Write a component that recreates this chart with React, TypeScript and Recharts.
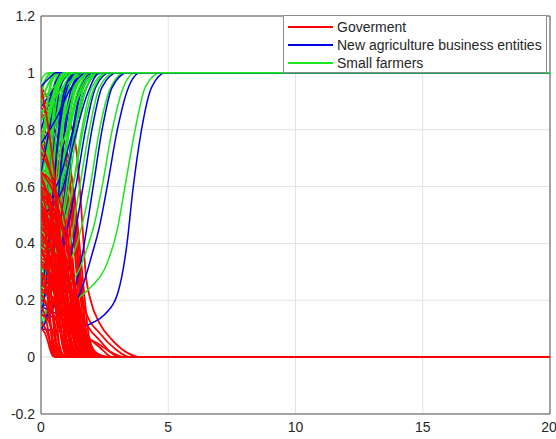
import { LineChart, Line, XAxis, YAxis, CartesianGrid, ReferenceLine, Legend } from "recharts";

type Pt = [number, number];

const xTicks = [0, 5, 10, 15, 20];
const yTicks = [-0.2, 0, 0.2, 0.4, 0.6, 0.8, 1, 1.2];
const seriesNames = ["Goverment", "New agriculture business entities", "Small farmers"];
const seriesColors = ["#ff0000", "#0000e6", "#1ee61e"];

// each run: [time, share] points
const government: Pt[][] = [
  [[0, 0.95], [0.6, 0.85], [1.0, 0.73], [1.26, 0.6], [1.45, 0.4], [1.6, 0.25], [1.8, 0.07], [2.1, 0.01], [2.4, 0], [20, 0]],
  [[0, 0.9], [0.54, 0.8], [0.9, 0.7], [1.13, 0.6], [1.3, 0.4], [1.44, 0.25], [1.62, 0.07], [1.89, 0.01], [2.16, 0], [20, 0]],
  [[0, 0.85], [0.48, 0.77], [0.8, 0.68], [1.0, 0.58], [1.16, 0.4], [1.28, 0.25], [1.44, 0.07], [1.68, 0.01], [1.92, 0], [20, 0]],
  [[0, 0.8], [0.42, 0.72], [0.7, 0.64], [0.88, 0.55], [1.02, 0.38], [1.12, 0.24], [1.26, 0.07], [1.47, 0.01], [1.68, 0], [20, 0]],
  [[0, 0.92], [0.36, 0.8], [0.6, 0.7], [0.76, 0.6], [0.87, 0.4], [0.96, 0.25], [1.08, 0.07], [1.26, 0.01], [1.44, 0], [20, 0]],
  [[0, 0.75], [0.3, 0.68], [0.5, 0.6], [0.63, 0.52], [0.73, 0.36], [0.8, 0.23], [0.9, 0.07], [1.05, 0.01], [1.2, 0], [20, 0]],
  [[0, 0.88], [0.57, 0.79], [0.95, 0.69], [1.2, 0.58], [1.38, 0.4], [1.52, 0.25], [1.71, 0.07], [2.0, 0.01], [2.28, 0], [20, 0]],
  [[0, 0.7], [0.51, 0.66], [0.85, 0.6], [1.07, 0.52], [1.23, 0.36], [1.36, 0.23], [1.53, 0.07], [1.79, 0.01], [2.04, 0], [20, 0]],
  [[0, 0.82], [0.45, 0.74], [0.75, 0.66], [0.95, 0.56], [1.09, 0.39], [1.2, 0.24], [1.35, 0.07], [1.58, 0.01], [1.8, 0], [20, 0]],
  [[0, 0.95], [0.27, 0.82], [0.45, 0.7], [0.57, 0.6], [0.65, 0.4], [0.72, 0.25], [0.81, 0.07], [0.95, 0.01], [1.08, 0], [20, 0]],
  [[0, 0.78], [0.39, 0.7], [0.65, 0.62], [0.82, 0.54], [0.94, 0.37], [1.04, 0.23], [1.17, 0.07], [1.37, 0.01], [1.56, 0], [20, 0]],
  [[0, 0.86], [0.63, 0.78], [1.05, 0.68], [1.32, 0.57], [1.52, 0.39], [1.68, 0.24], [1.89, 0.07], [2.2, 0.01], [2.52, 0], [20, 0]],
  [[0, 0.72], [0.33, 0.66], [0.55, 0.59], [0.69, 0.51], [0.8, 0.35], [0.88, 0.22], [0.99, 0.07], [1.16, 0.01], [1.32, 0], [20, 0]],
  [[0, 0.66], [0.6, 0.63], [1.0, 0.58], [1.26, 0.5], [1.45, 0.35], [1.6, 0.22], [1.8, 0.07], [2.1, 0.01], [2.4, 0], [20, 0]],
  [[0, 0.9], [0.5, 0.88], [1.06, 0.84], [1.4, 0.72], [1.6, 0.5], [1.75, 0.3], [1.95, 0.2], [2.3, 0.12], [2.8, 0.06], [3.4, 0.015], [3.9, 0], [20, 0]],
  [[0, 0.75], [0.6, 0.7], [1.0, 0.6], [1.3, 0.4], [1.5, 0.25], [1.8, 0.15], [2.3, 0.085], [2.9, 0.03], [3.5, 0], [20, 0]],
  [[0, 0.65], [0.5, 0.6], [1.0, 0.45], [1.25, 0.3], [1.45, 0.19], [1.9, 0.1], [2.3, 0.06], [2.7, 0.02], [3.1, 0], [20, 0]],
  [[0, 0.5], [0.5, 0.45], [0.9, 0.3], [1.1, 0.15], [1.4, 0.09], [1.8, 0.07], [2.3, 0.035], [2.8, 0], [20, 0]],
  [[0, 0.35], [0.5, 0.3], [0.9, 0.2], [1.2, 0.12], [1.6, 0.08], [2.2, 0.05], [2.7, 0.02], [3.3, 0], [20, 0]],
  [[0, 0.65], [0.6, 0.55], [1.08, 0.36], [1.44, 0.16], [1.74, 0.045], [2.1, 0.006], [2.4, 0], [20, 0]],
  [[0, 0.62], [0.4, 0.53], [0.72, 0.34], [0.96, 0.155], [1.16, 0.043], [1.4, 0.006], [1.6, 0], [20, 0]],
  [[0, 0.6], [0.53, 0.51], [0.95, 0.33], [1.26, 0.15], [1.52, 0.042], [1.84, 0.006], [2.1, 0], [20, 0]],
  [[0, 0.58], [0.25, 0.49], [0.45, 0.32], [0.6, 0.145], [0.73, 0.04], [0.88, 0.006], [1.0, 0], [20, 0]],
  [[0, 0.56], [0.58, 0.48], [1.04, 0.31], [1.38, 0.14], [1.67, 0.039], [2.01, 0.006], [2.3, 0], [20, 0]],
  [[0, 0.54], [0.35, 0.46], [0.63, 0.3], [0.84, 0.135], [1.02, 0.038], [1.23, 0.005], [1.4, 0], [20, 0]],
  [[0, 0.52], [0.48, 0.44], [0.86, 0.29], [1.14, 0.13], [1.38, 0.036], [1.66, 0.005], [1.9, 0], [20, 0]],
  [[0, 0.5], [0.2, 0.43], [0.36, 0.28], [0.48, 0.125], [0.58, 0.035], [0.7, 0.005], [0.8, 0], [20, 0]],
  [[0, 0.48], [0.63, 0.41], [1.13, 0.26], [1.5, 0.12], [1.81, 0.034], [2.19, 0.005], [2.5, 0], [20, 0]],
  [[0, 0.46], [0.43, 0.39], [0.77, 0.25], [1.02, 0.115], [1.23, 0.032], [1.49, 0.005], [1.7, 0], [20, 0]],
  [[0, 0.44], [0.3, 0.37], [0.54, 0.24], [0.72, 0.11], [0.87, 0.031], [1.05, 0.004], [1.2, 0], [20, 0]],
  [[0, 0.42], [0.55, 0.36], [0.99, 0.23], [1.32, 0.105], [1.6, 0.029], [1.93, 0.004], [2.2, 0], [20, 0]],
  [[0, 0.4], [0.38, 0.34], [0.68, 0.22], [0.9, 0.1], [1.09, 0.028], [1.31, 0.004], [1.5, 0], [20, 0]],
  [[0, 0.38], [0.23, 0.32], [0.41, 0.21], [0.54, 0.095], [0.65, 0.027], [0.79, 0.004], [0.9, 0], [20, 0]],
  [[0, 0.36], [0.5, 0.31], [0.9, 0.2], [1.2, 0.09], [1.45, 0.025], [1.75, 0.004], [2.0, 0], [20, 0]],
  [[0, 0.34], [0.33, 0.29], [0.59, 0.19], [0.78, 0.085], [0.94, 0.024], [1.14, 0.003], [1.3, 0], [20, 0]],
  [[0, 0.32], [0.6, 0.27], [1.08, 0.18], [1.44, 0.08], [1.74, 0.022], [2.1, 0.003], [2.4, 0], [20, 0]],
  [[0, 0.3], [0.18, 0.26], [0.32, 0.165], [0.42, 0.075], [0.51, 0.021], [0.61, 0.003], [0.7, 0], [20, 0]],
  [[0, 0.28], [0.45, 0.24], [0.81, 0.15], [1.08, 0.07], [1.31, 0.02], [1.58, 0.003], [1.8, 0], [20, 0]],
  [[0, 0.26], [0.28, 0.22], [0.5, 0.14], [0.66, 0.065], [0.8, 0.018], [0.96, 0.003], [1.1, 0], [20, 0]],
  [[0, 0.24], [0.55, 0.2], [0.99, 0.13], [1.32, 0.06], [1.6, 0.017], [1.93, 0.002], [2.2, 0], [20, 0]],
  [[0, 0.22], [0.2, 0.19], [0.36, 0.12], [0.48, 0.055], [0.58, 0.015], [0.7, 0.002], [0.8, 0], [20, 0]],
  [[0, 0.2], [0.38, 0.17], [0.68, 0.11], [0.9, 0.05], [1.09, 0.014], [1.31, 0.002], [1.5, 0], [20, 0]],
  [[0, 0.18], [0.15, 0.15], [0.27, 0.1], [0.36, 0.045], [0.44, 0.013], [0.53, 0.002], [0.6, 0], [20, 0]],
  [[0, 0.15], [0.28, 0.13], [0.5, 0.08], [0.66, 0.038], [0.8, 0.011], [0.96, 0.002], [1.1, 0], [20, 0]],
  [[0, 0.12], [0.18, 0.1], [0.32, 0.066], [0.42, 0.03], [0.51, 0.008], [0.61, 0.001], [0.7, 0], [20, 0]],
  [[0, 0.1], [0.15, 0.085], [0.27, 0.055], [0.36, 0.025], [0.44, 0.007], [0.53, 0.001], [0.6, 0], [20, 0]],
  [[0, 0.64], [0.3, 0.54], [0.54, 0.35], [0.72, 0.16], [0.87, 0.045], [1.05, 0.006], [1.2, 0], [20, 0]],
  [[0, 0.5], [0.5, 0.43], [0.9, 0.28], [1.2, 0.125], [1.45, 0.035], [1.75, 0.005], [2.0, 0], [20, 0]],
  [[0, 0.45], [0.65, 0.38], [1.17, 0.25], [1.56, 0.11], [1.89, 0.032], [2.28, 0.005], [2.6, 0], [20, 0]],
  [[0, 0.55], [0.15, 0.47], [0.27, 0.3], [0.36, 0.14], [0.44, 0.039], [0.53, 0.005], [0.6, 0], [20, 0]],
  [[0, 0.38], [0.65, 0.32], [1.17, 0.21], [1.56, 0.095], [1.89, 0.027], [2.28, 0.004], [2.6, 0], [20, 0]],
  [[0, 0.6], [0.62, 0.52], [1.12, 0.34], [1.5, 0.15], [1.8, 0.042], [2.15, 0.006], [2.5, 0], [20, 0]],
  [[0, 0.57], [0.68, 0.49], [1.2, 0.32], [1.58, 0.14], [1.9, 0.04], [2.3, 0.006], [2.6, 0], [20, 0]],
  [[0, 0.53], [0.55, 0.46], [1.0, 0.3], [1.33, 0.13], [1.6, 0.037], [1.93, 0.005], [2.2, 0], [20, 0]],
  [[0, 0.49], [0.7, 0.42], [1.26, 0.27], [1.68, 0.12], [2.0, 0.034], [2.4, 0.005], [2.8, 0], [20, 0]],
  [[0, 0.47], [0.6, 0.4], [1.08, 0.26], [1.44, 0.115], [1.74, 0.033], [2.1, 0.005], [2.4, 0], [20, 0]],
  [[0, 0.43], [0.45, 0.37], [0.81, 0.24], [1.08, 0.105], [1.3, 0.03], [1.57, 0.004], [1.8, 0], [20, 0]],
  [[0, 0.41], [0.65, 0.35], [1.17, 0.23], [1.56, 0.1], [1.89, 0.029], [2.28, 0.004], [2.6, 0], [20, 0]],
  [[0, 0.37], [0.58, 0.31], [1.04, 0.2], [1.38, 0.09], [1.67, 0.026], [2.01, 0.004], [2.3, 0], [20, 0]],
  [[0, 0.33], [0.4, 0.28], [0.72, 0.18], [0.96, 0.08], [1.16, 0.023], [1.4, 0.003], [1.6, 0], [20, 0]],
  [[0, 0.29], [0.65, 0.25], [1.17, 0.16], [1.56, 0.07], [1.89, 0.02], [2.28, 0.003], [2.6, 0], [20, 0]],
  [[0, 0.27], [0.35, 0.23], [0.63, 0.15], [0.84, 0.066], [1.02, 0.019], [1.23, 0.003], [1.4, 0], [20, 0]],
  [[0, 0.23], [0.6, 0.2], [1.08, 0.13], [1.44, 0.056], [1.74, 0.016], [2.1, 0.002], [2.4, 0], [20, 0]],
  [[0, 0.59], [0.4, 0.5], [0.72, 0.32], [0.96, 0.145], [1.16, 0.041], [1.4, 0.006], [1.6, 0], [20, 0]],
  [[0, 0.51], [0.3, 0.43], [0.54, 0.28], [0.72, 0.125], [0.87, 0.036], [1.05, 0.005], [1.2, 0], [20, 0]],
];

const newEntities: Pt[][] = [
  [[0, 0.88], [0.4, 0.93], [0.9, 0.99], [1.3, 1], [20, 1]],
  [[0, 0.7], [0.3, 0.78], [0.7, 0.9], [1.1, 0.98], [1.5, 1], [20, 1]],
  [[0, 0.6], [0.5, 0.7], [1.0, 0.86], [1.5, 0.97], [2.0, 1], [20, 1]],
  [[0, 0.5], [0.3, 0.62], [0.6, 0.8], [0.9, 0.93], [1.3, 1], [20, 1]],
  [[0, 0.4], [0.4, 0.5], [0.8, 0.66], [1.2, 0.85], [1.6, 0.96], [2.1, 1], [20, 1]],
  [[0, 0.3], [0.3, 0.38], [0.6, 0.55], [0.9, 0.76], [1.2, 0.92], [1.6, 1], [20, 1]],
  [[0, 0.2], [0.3, 0.24], [0.6, 0.36], [0.9, 0.55], [1.2, 0.77], [1.5, 0.92], [2.0, 1], [20, 1]],
  [[0, 0.12], [0.3, 0.14], [0.6, 0.22], [0.85, 0.4], [1.1, 0.64], [1.4, 0.86], [1.8, 0.98], [2.2, 1], [20, 1]],
  [[0, 0.25], [0.5, 0.28], [0.9, 0.4], [1.37, 0.6], [1.75, 0.8], [2.15, 0.95], [2.7, 1], [20, 1]],
  [[0, 0.18], [0.6, 0.2], [1.1, 0.33], [1.65, 0.6], [2.0, 0.8], [2.4, 0.95], [3.0, 1], [20, 1]],
  [[0, 0.15], [0.7, 0.14], [1.2, 0.2], [1.6, 0.35], [2.05, 0.6], [2.4, 0.8], [2.8, 0.95], [3.4, 1], [20, 1]],
  [[0, 0.18], [0.8, 0.15], [1.2, 0.17], [1.6, 0.24], [2.0, 0.36], [2.3, 0.46], [2.6, 0.6], [3.0, 0.8], [3.4, 0.94], [3.9, 1], [20, 1]],
  [[0, 0.1], [1, 0.09], [1.5, 0.1], [2, 0.12], [2.5, 0.15], [3, 0.22], [3.38, 0.4], [3.6, 0.58], [3.95, 0.8], [4.35, 0.95], [4.9, 1], [20, 1]],
  [[0, 0.8], [0.2, 0.86], [0.5, 0.95], [0.8, 1], [20, 1]],
  [[0, 0.45], [0.6, 0.52], [1.1, 0.7], [1.6, 0.9], [2.1, 0.99], [2.5, 1], [20, 1]],
  [[0, 0.35], [0.15, 0.45], [0.35, 0.65], [0.6, 0.87], [0.9, 0.98], [1.2, 1], [20, 1]],
  [[0, 0.55], [0.7, 0.62], [1.2, 0.78], [1.7, 0.93], [2.2, 1], [20, 1]],
  [[0, 0.1], [0.2, 0.13], [0.45, 0.3], [0.7, 0.58], [0.95, 0.82], [1.3, 0.97], [1.7, 1], [20, 1]],
  [[0, 0.95], [0.3, 0.98], [0.6, 1], [20, 1]],
  [[0, 0.65], [0.2, 0.74], [0.5, 0.88], [0.8, 0.97], [1.1, 1], [20, 1]],
  [[0, 0.25], [0.2, 0.33], [0.45, 0.55], [0.7, 0.78], [1.0, 0.94], [1.4, 1], [20, 1]],
  [[0, 0.75], [0.6, 0.84], [1.2, 0.95], [1.8, 1], [20, 1]],
  [[0, 0.15], [0.15, 0.22], [0.35, 0.42], [0.55, 0.66], [0.8, 0.88], [1.1, 0.98], [1.4, 1], [20, 1]],
  [[0, 0.5], [0.8, 0.58], [1.3, 0.76], [1.8, 0.92], [2.3, 1], [20, 1]],
];

const smallFarmers: Pt[][] = [
  [[0, 0.95], [0.2, 0.98], [0.5, 1], [20, 1]],
  [[0, 0.9], [0.3, 0.96], [0.7, 1], [20, 1]],
  [[0, 0.85], [0.3, 0.9], [0.7, 0.97], [1.1, 1], [20, 1]],
  [[0, 0.8], [0.4, 0.88], [0.8, 0.96], [1.3, 1], [20, 1]],
  [[0, 0.75], [0.2, 0.82], [0.5, 0.93], [0.9, 1], [20, 1]],
  [[0, 0.7], [0.5, 0.8], [1.0, 0.93], [1.5, 1], [20, 1]],
  [[0, 0.65], [0.3, 0.75], [0.7, 0.9], [1.1, 0.98], [1.5, 1], [20, 1]],
  [[0, 0.6], [0.6, 0.72], [1.1, 0.88], [1.6, 0.98], [2.0, 1], [20, 1]],
  [[0, 0.55], [0.2, 0.66], [0.5, 0.85], [0.8, 0.96], [1.2, 1], [20, 1]],
  [[0, 0.5], [0.4, 0.6], [0.8, 0.8], [1.2, 0.94], [1.7, 1], [20, 1]],
  [[0, 0.45], [0.3, 0.55], [0.6, 0.74], [0.9, 0.9], [1.3, 0.99], [1.6, 1], [20, 1]],
  [[0, 0.4], [0.5, 0.5], [0.9, 0.68], [1.3, 0.87], [1.7, 0.97], [2.2, 1], [20, 1]],
  [[0, 0.35], [0.2, 0.45], [0.45, 0.66], [0.7, 0.86], [1.0, 0.97], [1.4, 1], [20, 1]],
  [[0, 0.3], [0.4, 0.4], [0.8, 0.6], [1.1, 0.8], [1.5, 0.95], [2.0, 1], [20, 1]],
  [[0, 0.25], [0.25, 0.35], [0.5, 0.55], [0.75, 0.78], [1.0, 0.93], [1.4, 1], [20, 1]],
  [[0, 0.2], [0.3, 0.28], [0.6, 0.46], [0.9, 0.7], [1.2, 0.9], [1.6, 0.99], [2.0, 1], [20, 1]],
  [[0, 0.15], [0.2, 0.25], [0.4, 0.45], [0.6, 0.7], [0.85, 0.9], [1.2, 1], [20, 1]],
  [[0, 0.1], [0.2, 0.15], [0.45, 0.35], [0.7, 0.65], [0.95, 0.88], [1.3, 0.99], [1.6, 1], [20, 1]],
  [[0, 0.12], [0.3, 0.2], [0.6, 0.4], [0.85, 0.6], [1.15, 0.85], [1.5, 0.97], [2.0, 1], [20, 1]],
  [[0, 0.28], [0.5, 0.34], [0.9, 0.46], [1.25, 0.6], [1.6, 0.8], [2.0, 0.95], [2.6, 1], [20, 1]],
  [[0, 0.22], [0.6, 0.25], [1.1, 0.38], [1.52, 0.6], [1.9, 0.8], [2.3, 0.95], [2.9, 1], [20, 1]],
  [[0, 0.32], [0.7, 0.3], [1.3, 0.37], [1.6, 0.46], [1.93, 0.6], [2.3, 0.8], [2.7, 0.94], [3.3, 1], [20, 1]],
  [[0, 0.3], [0.5, 0.27], [1, 0.26], [1.4, 0.29], [1.8, 0.38], [2.1, 0.47], [2.4, 0.6], [2.8, 0.8], [3.2, 0.94], [3.7, 1], [20, 1]],
  [[0, 0.2], [1, 0.19], [1.5, 0.21], [2, 0.25], [2.5, 0.31], [3, 0.45], [3.3, 0.6], [3.7, 0.8], [4.1, 0.95], [4.7, 1], [20, 1]],
  [[0, 0.92], [0.15, 0.97], [0.4, 1], [20, 1]],
  [[0, 0.78], [0.6, 0.86], [1.2, 0.95], [1.8, 1], [20, 1]],
  [[0, 0.58], [0.15, 0.7], [0.35, 0.87], [0.6, 0.97], [0.9, 1], [20, 1]],
  [[0, 0.42], [0.1, 0.55], [0.25, 0.75], [0.45, 0.92], [0.7, 1], [20, 1]],
  [[0, 0.68], [0.1, 0.78], [0.3, 0.93], [0.55, 1], [20, 1]],
  [[0, 0.52], [0.6, 0.6], [1.0, 0.75], [1.4, 0.9], [1.9, 0.99], [2.3, 1], [20, 1]],
  [[0, 0.97], [0.1, 0.99], [0.3, 1], [20, 1]],
  [[0, 0.88], [0.15, 0.93], [0.4, 0.98], [0.7, 1], [20, 1]],
  [[0, 0.83], [0.5, 0.9], [1.0, 0.97], [1.5, 1], [20, 1]],
  [[0, 0.73], [0.1, 0.8], [0.3, 0.92], [0.55, 0.99], [0.8, 1], [20, 1]],
  [[0, 0.66], [0.4, 0.78], [0.8, 0.91], [1.2, 0.98], [1.6, 1], [20, 1]],
  [[0, 0.62], [0.15, 0.72], [0.4, 0.87], [0.7, 0.97], [1.0, 1], [20, 1]],
  [[0, 0.57], [0.5, 0.68], [0.9, 0.83], [1.3, 0.95], [1.8, 1], [20, 1]],
  [[0, 0.48], [0.15, 0.6], [0.35, 0.78], [0.6, 0.93], [0.9, 1], [20, 1]],
  [[0, 0.38], [0.3, 0.5], [0.6, 0.7], [0.9, 0.88], [1.2, 0.97], [1.6, 1], [20, 1]],
  [[0, 0.33], [0.1, 0.45], [0.25, 0.66], [0.45, 0.87], [0.7, 0.98], [1.0, 1], [20, 1]],
  [[0, 0.27], [0.6, 0.38], [1.0, 0.55], [1.35, 0.76], [1.7, 0.92], [2.2, 1], [20, 1]],
  [[0, 0.18], [0.1, 0.3], [0.25, 0.55], [0.4, 0.78], [0.6, 0.94], [0.9, 1], [20, 1]],
  [[0, 0.13], [0.1, 0.2], [0.25, 0.42], [0.4, 0.68], [0.6, 0.9], [0.9, 0.99], [1.1, 1], [20, 1]],
  [[0, 0.24], [0.4, 0.3], [0.8, 0.47], [1.1, 0.66], [1.45, 0.86], [1.8, 0.97], [2.3, 1], [20, 1]],
  [[0, 0.86], [0.7, 0.93], [1.3, 0.98], [1.9, 1], [20, 1]],
  [[0, 0.62], [0.8, 0.74], [1.4, 0.9], [1.9, 0.98], [2.4, 1], [20, 1]],
  [[0, 0.76], [0.3, 0.85], [0.7, 0.95], [1.1, 1], [20, 1]],
  [[0, 0.45], [0.7, 0.55], [1.2, 0.74], [1.6, 0.9], [2.1, 0.99], [2.5, 1], [20, 1]],
  [[0, 0.36], [0.8, 0.45], [1.3, 0.62], [1.7, 0.82], [2.1, 0.95], [2.6, 1], [20, 1]],
  [[0, 0.9], [0.5, 0.95], [1.0, 0.99], [1.4, 1], [20, 1]],
];

const toRows = (pts: Pt[]) => pts.map(([t, v]) => ({ t, v }));

// slow government runs that start high sit under the farmers' bundle,
// the rest are drawn over it (as in the original picture)
const startOf = (p: Pt[]) => p[0][1];
const settleOf = (p: Pt[]) => p[p.length - 2][0];
const isUnder = (p: Pt[]) => startOf(p) > 0.655 && settleOf(p) > 1.35;
const govUnder = government.filter(isUnder);
const govOver = government.filter((p) => !isUnder(p));

type Item = { g: number; key: string; pts: Pt[]; layer: number };
const mixed: Item[] = [
  ...newEntities.map((pts, i) => ({ g: 1, key: `b${i}`, pts, layer: (i + 0.5) / newEntities.length })),
  ...smallFarmers.map((pts, i) => ({ g: 2, key: `f${i}`, pts, layer: (i + 0.5) / smallFarmers.length })),
].sort((a, b) => a.layer - b.layer);

const drawOrder: Item[] = [
  ...govUnder.map((pts, i) => ({ g: 0, key: `gu${i}`, pts, layer: 0 })),
  ...mixed,
  ...govOver.map((pts, i) => ({ g: 0, key: `go${i}`, pts, layer: 1 })),
];

const font = "'Liberation Sans', Arial, sans-serif";

function LegendBox() {
  return (
    <div
      style={{
        width: 262,
        height: 56,
        border: "1px solid #8c8c8c",
        background: "#fff",
        fontFamily: font,
        fontSize: 14,
        color: "#262626",
      }}
    >
      {seriesNames.map((name, i) => (
        <div key={name} style={{ display: "flex", alignItems: "center", height: 18, marginTop: i === 0 ? 2 : 0 }}>
          <span style={{ width: 45, marginLeft: 4, borderTop: `2px solid ${seriesColors[i]}` }} />
          <span style={{ marginLeft: 4, lineHeight: "18px", whiteSpace: "nowrap" }}>{name}</span>
        </div>
      ))}
    </div>
  );
}

export default function App() {
  return (
    <div style={{ position: "absolute", left: 0, top: 0, background: "#fff" }}>
      <LineChart width={556} height={439} margin={{ top: 16, right: 6, bottom: 0, left: 0 }}>
        <CartesianGrid stroke="#e3e3e3" />
        <XAxis
          dataKey="t"
          type="number"
          domain={[0, 20]}
          ticks={xTicks}
          allowDataOverflow
          height={25}
          tickLine={false}
          tickMargin={2}
          stroke="#555"
          tick={{ fill: "#262626", fontSize: 14, fontFamily: font }}
        />
        <YAxis
          type="number"
          domain={[-0.2, 1.2]}
          ticks={yTicks}
          allowDataOverflow
          width={41}
          tickLine={false}
          tickMargin={0}
          stroke="#555"
          tick={{ fill: "#262626", fontSize: 14, fontFamily: font }}
        />
        <ReferenceLine y={1.2} stroke="#555" />
        <ReferenceLine x={20} stroke="#555" />
        {drawOrder.map(({ g, key, pts }) => (
          <Line
            key={key}
            data={toRows(pts)}
            dataKey="v"
            type="monotone"
            stroke={seriesColors[g]}
            strokeWidth={g === 0 ? 1.8 : 1.5}
            dot={false}
            activeDot={false}
            isAnimationActive={false}
          />
        ))}
        <Legend
          layout="vertical"
          align="center"
          verticalAlign="middle"
          wrapperStyle={{ left: 283, top: 15, width: 264, height: 58 }}
          content={() => <LegendBox />}
        />
      </LineChart>
    </div>
  );
}
